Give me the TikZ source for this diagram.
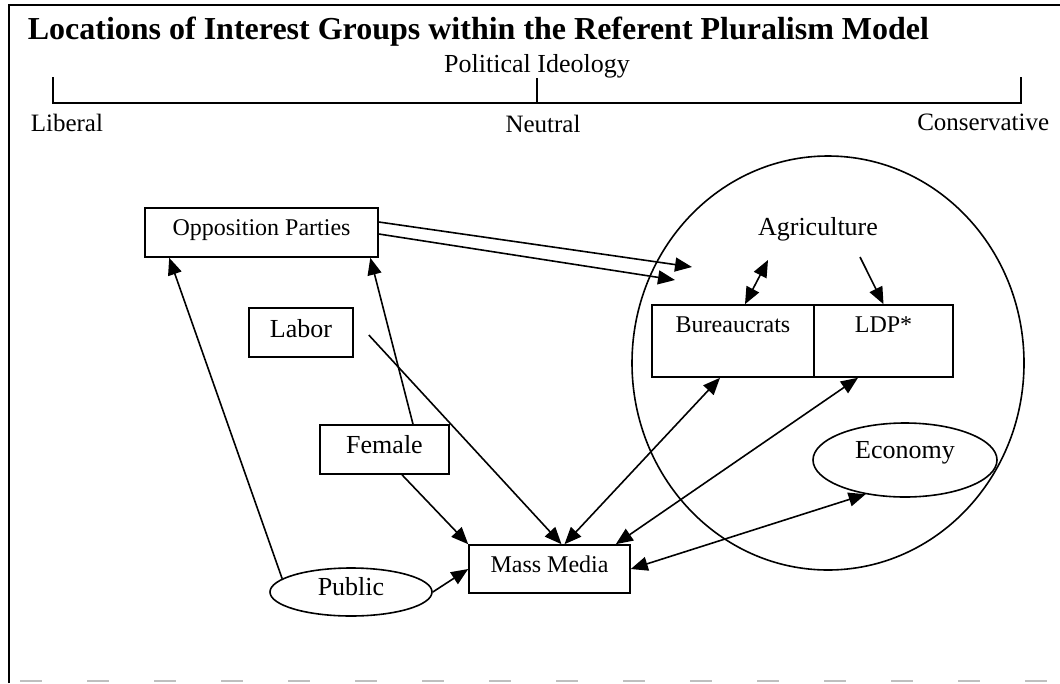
\documentclass[tikz,border=0pt]{standalone}
\usepackage{fontspec}
\setmainfont{Liberation Serif}
\usetikzlibrary{arrows.meta,shapes.geometric,calc}
\newcommand{\fsz}[1]{\fontsize{#1}{#1}\selectfont}
\begin{document}
\begin{tikzpicture}[x=1pt,y=-1pt,
  line width=1.6pt,
  txt/.style={inner sep=0pt},
  box/.style={draw, rectangle, inner sep=0pt, font=\fsz{26}},
  oval/.style={draw, ellipse, inner sep=0pt, font=\fsz{26}},
  arr/.style={-{Triangle[length=17pt,width=14pt]}},
  darr/.style={{Triangle[length=17pt,width=14pt]}-{Triangle[length=17pt,width=14pt]}},
]
\useasboundingbox (0,0) rectangle (1060,683);

% page frame
\draw[line width=1.6pt] (9,683) -- (9,5) -- (1060,5);
\draw[gray!50, line width=1.5pt, dash pattern=on 22pt off 45pt] (20,681) -- (1060,681);

% heading and ideology scale
\node[txt, anchor=base west, font=\bfseries\fsz{32}] (title) at (27,39)
  {Locations of Interest Groups within the Referent Pluralism Model};
\node[txt, anchor=base, font=\fsz{26}] (ideo) at (537,72) {Political Ideology};
\draw[line width=1.4pt] (53,77) -- (53,103) -- (1021,103) -- (1021,77);
\draw[line width=1.4pt] (537,78) -- (537,103);
\node[txt, anchor=base west, font=\fsz{25}] (lib) at (30,131) {Liberal};
\node[txt, anchor=base, font=\fsz{25}] (neu) at (543,132) {Neutral};
\node[txt, anchor=base east, font=\fsz{25}] (con) at (1050,130) {Conservative};

% conservative sphere
\node[draw, ellipse, inner sep=0pt, minimum width=392pt, minimum height=414pt] (sphere) at (828,363) {};
\node[txt, anchor=base, font=\fsz{26}] (agri) at (818,235) {Agriculture};
\node[box, font=\fsz{24}, minimum width=162pt, minimum height=72pt, text height=17pt, text depth=35pt] (bur) at (733,341) {Bureaucrats};
\node[box, font=\fsz{24}, minimum width=139pt, minimum height=72pt, text height=17pt, text depth=35pt] (ldp) at (883.5,341) {LDP*};
\node[oval, minimum width=184pt, minimum height=74pt, text height=18pt, text depth=22pt] (econ) at (905,460) {Economy};

% other groups
\node[box, font=\fsz{24}, minimum width=233pt, minimum height=49pt, text height=17pt, text depth=12pt] (opp) at (261.5,232.5) {Opposition Parties};
\node[box, minimum width=104pt, minimum height=49pt, text height=18pt, text depth=9pt] (labor) at (301,332.5) {Labor};
\node[box, minimum width=129pt, minimum height=49pt, text height=18pt, text depth=11pt] (female) at (384.5,449.5) {Female};
\node[box, font=\fsz{24}, minimum width=161pt, minimum height=48pt, text height=17pt, text depth=11pt] (media) at (549.5,569) {Mass Media};
\node[oval, minimum width=162pt, minimum height=48pt, text height=18pt, text depth=12pt] (public) at (351,592) {Public};

\coordinate (in1) at (692,267);
\coordinate (in2) at (675,280);

% influence arrows
\draw[arr] ($(opp.east)+(0,-10.5)$) -- (in1);
\draw[arr] ($(opp.east)+(0,1.5)$) -- (in2);
\draw[darr] ($(agri.base)+(-50,25)$) -- ($(bur.north)+(12,0)$);
\draw[arr] ($(agri.base)+(42,22)$) -- (ldp.north);
\draw[arr] (public.169) -- ($(opp.south west)+(25,0)$);
\draw[arr] ($(female.north)+(28.5,0)$) -- ($(opp.south east)+(-8.5,0)$);
\draw[arr] ($(labor.east)+(15,2.5)$) -- ($(media.north)+(12,0)$);
\draw[arr] ($(female.south)+(17.5,0)$) -- (media.north west);
\draw[darr] ($(bur.south)+(-13,0)$) -- ($(media.north)+(15,0)$);
\draw[darr] ($(ldp.south)+(-25.5,0)$) -- ($(media.north east)+(-15,0)$);
\draw[darr] (econ.221) -- (media.east);
\draw[arr] (public.east) -- (media.west);
\end{tikzpicture}
\end{document}
